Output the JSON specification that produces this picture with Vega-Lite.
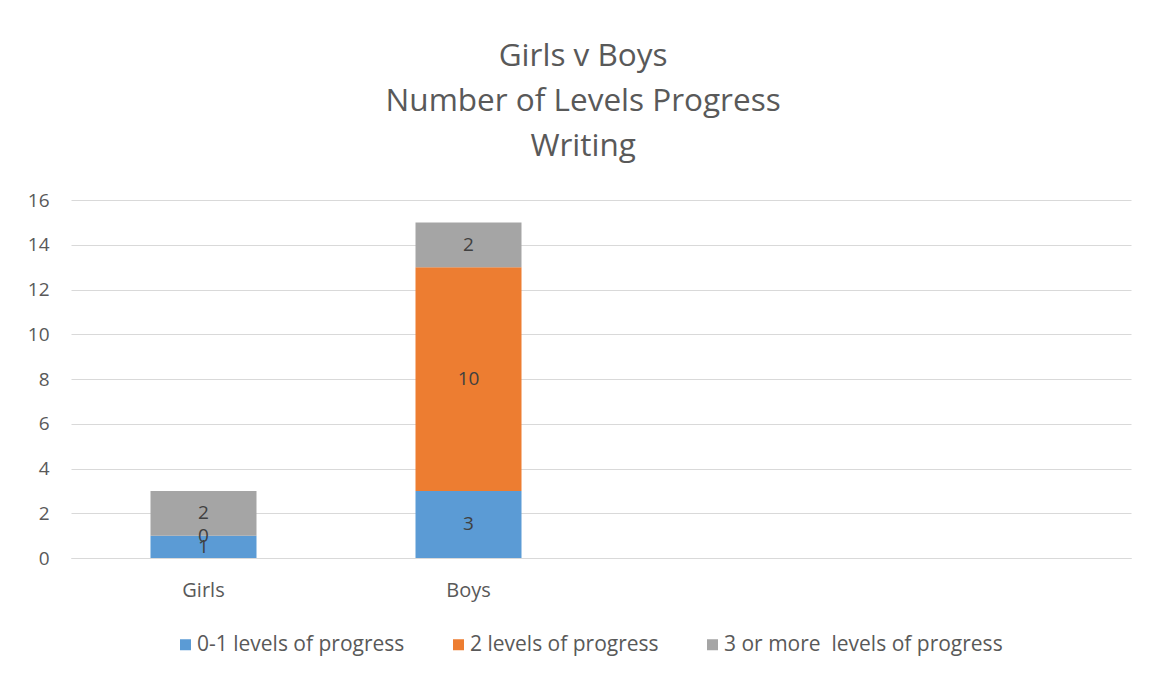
{
  "$schema": "https://vega.github.io/schema/vega-lite/v6.json",
  "width": 1060,
  "height": 358,
  "autosize": {"type": "none"},
  "padding": {"left": 71, "top": 200, "right": 23, "bottom": 117},
  "background": "white",
  "title": {
    "text": ["Girls v Boys", "Number of Levels Progress", "Writing"],
    "font": "Open Sans",
    "fontSize": 31.5,
    "fontWeight": "normal",
    "color": "#595959",
    "lineHeight": 45,
    "anchor": "middle",
    "frame": "bounds",
    "offset": 29,
    "dx": 4
  },
  "data": {
    "values": [
      {"group": "Girls", "series": "0-1 levels of progress", "value": 1},
      {"group": "Girls", "series": "2 levels of progress", "value": 0},
      {"group": "Girls", "series": "3 or more\u00a0 levels of progress", "value": 2},
      {"group": "Boys", "series": "0-1 levels of progress", "value": 3},
      {"group": "Boys", "series": "2 levels of progress", "value": 10},
      {"group": "Boys", "series": "3 or more\u00a0 levels of progress", "value": 2}
    ]
  },
  "encoding": {
    "x": {
      "field": "group",
      "type": "nominal",
      "scale": {"domain": ["Girls", "Boys", " ", "  "], "paddingInner": 0.6, "paddingOuter": 0.3},
      "axis": {
        "title": null,
        "labelAngle": 0,
        "ticks": false,
        "domain": true,
        "domainColor": "#d9d9d9",
        "labelFont": "Open Sans",
        "labelFontSize": 20,
        "labelColor": "#595959",
        "labelPadding": 22
      }
    },
    "y": {
      "field": "value",
      "type": "quantitative",
      "stack": "zero",
      "scale": {"domain": [0, 16], "nice": false},
      "axis": {
        "title": null,
        "values": [0, 2, 4, 6, 8, 10, 12, 14, 16],
        "domain": false,
        "ticks": false,
        "gridColor": "#d9d9d9",
        "labelFont": "Open Sans",
        "labelFontSize": 19,
        "labelColor": "#595959",
        "labelPadding": 22
      }
    },
    "order": {"field": "series", "type": "nominal", "sort": "ascending"}
  },
  "layer": [
    {
      "mark": {"type": "bar"},
      "encoding": {
        "color": {
          "field": "series",
          "type": "nominal",
          "scale": {
            "domain": ["0-1 levels of progress", "2 levels of progress", "3 or more\u00a0 levels of progress"],
            "range": ["#5b9bd5", "#ed7d31", "#a5a5a5"]
          },
          "legend": {
            "title": null,
            "orient": "none",
            "legendX": 104,
            "legendY": 434,
            "padding": 0,
            "direction": "horizontal",
            "symbolType": "square",
            "symbolSize": 121,
            "symbolStrokeWidth": 0,
            "labelFont": "Open Sans",
            "labelFontSize": 21,
            "labelColor": "#595959",
            "labelLimit": 500,
            "labelOffset": 1,
            "columnPadding": 43
          }
        }
      }
    },
    {
      "mark": {"type": "text", "font": "Open Sans", "fontSize": 19, "color": "#404040", "baseline": "middle"},
      "encoding": {
        "y": {"field": "value", "type": "quantitative", "stack": "zero", "bandPosition": 0.5},
        "detail": {"field": "series", "type": "nominal"},
        "text": {"field": "value", "type": "quantitative"}
      }
    }
  ],
  "config": {
    "view": {"stroke": null}
  }
}
